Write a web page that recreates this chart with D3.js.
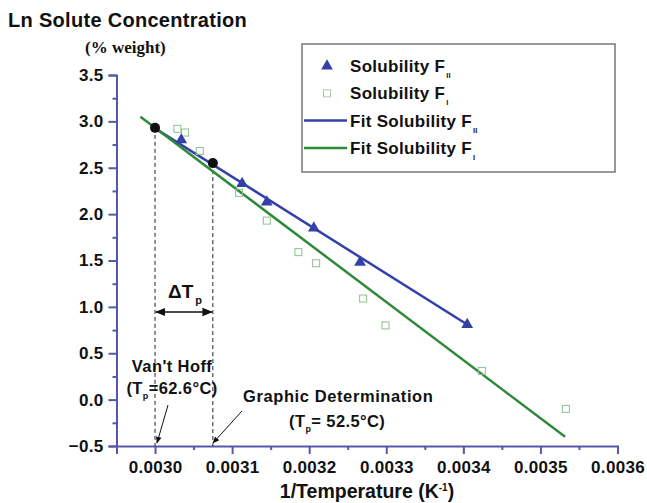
<!DOCTYPE html>
<html><head><meta charset="utf-8">
<script src="https://cdn.jsdelivr.net/npm/d3@7"></script>
<style>
body{margin:0;background:#fff;}
text{font-family:"Liberation Sans",Arial,sans-serif;font-weight:bold;fill:#111;}
</style></head>
<body><svg id="c" width="647" height="503"></svg>
<script>
// Data
const solubilityFII = [
  [0.003034, 2.80], [0.003113, 2.33], [0.003145, 2.13],
  [0.003206, 1.85], [0.003266, 1.48], [0.003405, 0.81]
];
const solubilityFI = [
  [0.003029, 2.92], [0.003039, 2.88], [0.003058, 2.68], [0.003109, 2.23],
  [0.003145, 1.93], [0.003186, 1.59], [0.003209, 1.47], [0.003270, 1.09],
  [0.003299, 0.80], [0.003424, 0.31], [0.003533, -0.10]
];
const fitFII = [[0.0030, 2.925], [0.003405, 0.81]];
const fitFI = [[0.002981, 3.05], [0.003532, -0.40]];
const tpPoints = [[0.0030, 2.93], [0.003075, 2.55]];
const xTicks = [0.0030, 0.0031, 0.0032, 0.0033, 0.0034, 0.0035, 0.0036];
const xMinor = [0.00295, 0.00305, 0.00315, 0.00325, 0.00335, 0.00345, 0.00355];
const yTicks = [-0.5, 0.0, 0.5, 1.0, 1.5, 2.0, 2.5, 3.0, 3.5];
const yMinor = [-0.25, 0.25, 0.75, 1.25, 1.75, 2.25, 2.75, 3.25];

const svg = d3.select("#c");
const x = d3.scaleLinear().domain([0.00295, 0.0036]).range([116.5, 617.5]);
const y = d3.scaleLinear().domain([-0.5, 3.5]).range([446, 75]);
const axisColor = "#5656aa";
const blue = "#3340a8", green = "#2e8a3a";

const defs = svg.append("defs");
defs.append("marker").attr("id","ah").attr("viewBox","0 0 10 10").attr("refX",9).attr("refY",5)
  .attr("markerWidth",7).attr("markerHeight",7).attr("orient","auto-start-reverse")
  .append("path").attr("d","M0,1 L10,5 L0,9 Z").attr("fill","#111");

function styleAxis(g){
  g.select(".domain").attr("stroke",axisColor).attr("stroke-width",2);
  g.selectAll(".tick line").attr("stroke",axisColor).attr("stroke-width",2);
  g.selectAll(".tick text").style("font-size","17px").style("font-weight","bold")
    .style("letter-spacing","0.3px").attr("fill","#111");
}
const gx = svg.append("g").attr("transform",`translate(0,${y(-0.5)})`)
  .call(d3.axisBottom(x).tickValues(xTicks).tickFormat(d3.format(".4f")).tickSize(8).tickPadding(7));
styleAxis(gx);
const gxm = svg.append("g").attr("transform",`translate(0,${y(-0.5)})`)
  .call(d3.axisBottom(x).tickValues(xMinor).tickFormat("").tickSize(4));
styleAxis(gxm); gxm.select(".domain").remove();

const gy = svg.append("g").attr("transform",`translate(${x(0.00295)},0)`)
  .call(d3.axisLeft(y).tickValues(yTicks).tickFormat(d3.format(".1f")).tickSize(8).tickPadding(5));
styleAxis(gy);
const gym = svg.append("g").attr("transform",`translate(${x(0.00295)},0)`)
  .call(d3.axisLeft(y).tickValues(yMinor).tickFormat("").tickSize(4));
styleAxis(gym); gym.select(".domain").remove();

// Dashed verticals
svg.selectAll(".vd").data(tpPoints).enter().append("line")
  .attr("x1",d=>x(d[0])).attr("x2",d=>x(d[0])).attr("y1",d=>y(d[1])).attr("y2",y(-0.5))
  .attr("stroke","#222").attr("stroke-width",1).attr("stroke-dasharray","4,3");

// Fit lines
const line = d3.line().x(d=>x(d[0])).y(d=>y(d[1]));
svg.append("path").datum(fitFII).attr("d",line).attr("stroke",blue).attr("stroke-width",2.5).attr("fill","none");
svg.append("path").datum(fitFI).attr("d",line).attr("stroke",green).attr("stroke-width",2.5).attr("fill","none");

// Squares
svg.selectAll(".sq").data(solubilityFI).enter().append("rect")
  .attr("x",d=>x(d[0])-3.5).attr("y",d=>y(d[1])-3.5).attr("width",7).attr("height",7)
  .attr("fill","none").attr("stroke","#8fbf8f").attr("stroke-width",1);

// Triangles
const tri = d3.symbol().type(d3.symbolTriangle).size(60);
svg.selectAll(".tr").data(solubilityFII).enter().append("path")
  .attr("d",tri).attr("transform",d=>`translate(${x(d[0])},${y(d[1])})`).attr("fill",blue);

// Black dots
svg.selectAll(".bd").data(tpPoints).enter().append("circle")
  .attr("cx",d=>x(d[0])).attr("cy",d=>y(d[1])).attr("r",5).attr("fill","#111");

// Delta Tp arrow
svg.append("line").attr("x1",x(tpPoints[0][0])+1).attr("x2",x(tpPoints[1][0])-1)
  .attr("y1",312).attr("y2",312).attr("stroke","#111").attr("stroke-width",1.5)
  .attr("marker-start","url(#ah)").attr("marker-end","url(#ah)");
const dt = svg.append("text").attr("x",168).attr("y",298).style("font-size","19px");
dt.append("tspan").text("ΔT");
dt.append("tspan").attr("dy",6).attr("dx",2).style("font-size","11px").text("p");

const ann = {size:"16.5px", ls:"0.4px"};
// Van't Hoff
svg.append("text").attr("x",172).attr("y",372).attr("text-anchor","middle")
  .style("font-size",ann.size).style("letter-spacing",ann.ls).text("Van't Hoff");
const vh = svg.append("text").attr("x",172).attr("y",394).attr("text-anchor","middle")
  .style("font-size",ann.size).style("letter-spacing",ann.ls);
vh.append("tspan").text("(T");
vh.append("tspan").attr("dy",5).style("font-size","9px").text("p");
vh.append("tspan").attr("dy",-5).text("=62.6°C)");
svg.append("line").attr("x1",168).attr("y1",405).attr("x2",157).attr("y2",443)
  .attr("stroke","#111").attr("stroke-width",1).attr("marker-end","url(#ah)");

// Graphic determination
svg.append("text").attr("x",243).attr("y",402).style("font-size",ann.size).style("letter-spacing","0.6px")
  .text("Graphic Determination");
const gd = svg.append("text").attr("x",289).attr("y",427).style("font-size",ann.size).style("letter-spacing",ann.ls);
gd.append("tspan").text("(T");
gd.append("tspan").attr("dy",5).style("font-size","9px").text("p");
gd.append("tspan").attr("dy",-5).text("= 52.5°C)");
svg.append("line").attr("x1",242).attr("y1",411).attr("x2",213).attr("y2",443)
  .attr("stroke","#111").attr("stroke-width",1).attr("marker-end","url(#ah)");

// Titles
svg.append("text").attr("x",8).attr("y",27).style("font-size","20px").style("letter-spacing","0.3px")
  .text("Ln Solute Concentration");
svg.append("text").attr("x",85).attr("y",53).style("font-family","'Liberation Serif','Times New Roman',serif")
  .style("font-size","17px").text("(% weight)");
const xt = svg.append("text").attr("x",367).attr("y",498).attr("text-anchor","middle").style("font-size","19.5px");
xt.append("tspan").text("1/Temperature (K");
xt.append("tspan").attr("dy",-7).style("font-size","10px").text("-1");
xt.append("tspan").attr("dy",7).text(")");

// Legend
const lg = svg.append("g");
lg.append("rect").attr("x",302).attr("y",44).attr("width",313).attr("height",128)
  .attr("fill","#fff").attr("stroke","#777").attr("stroke-width",1.5);
const legendItems = [
  {label:"Solubility F", sub:"II", type:"tri"},
  {label:"Solubility F", sub:"I", type:"sq"},
  {label:"Fit Solubility F", sub:"II", type:"lineB"},
  {label:"Fit Solubility F", sub:"I", type:"lineG"}
];
legendItems.forEach((it,i)=>{
  const cy = 66 + i*27.3;
  if(it.type==="tri") lg.append("path").attr("d",tri).attr("transform",`translate(327,${cy})`).attr("fill",blue);
  if(it.type==="sq") lg.append("rect").attr("x",323.5).attr("y",cy-3.5).attr("width",7).attr("height",7)
    .attr("fill","none").attr("stroke","#b0c8b0").attr("stroke-width",1);
  if(it.type==="lineB") lg.append("line").attr("x1",304).attr("x2",347).attr("y1",cy).attr("y2",cy).attr("stroke",blue).attr("stroke-width",2.5);
  if(it.type==="lineG") lg.append("line").attr("x1",304).attr("x2",347).attr("y1",cy).attr("y2",cy).attr("stroke",green).attr("stroke-width",2.5);
  const t = lg.append("text").attr("x",350).attr("y",cy+6).style("font-size","17px").style("letter-spacing","0.3px");
  t.append("tspan").text(it.label);
  t.append("tspan").attr("dy",6).attr("dx",1).style("font-size","7.5px").text(it.sub);
});
</script></body></html>
